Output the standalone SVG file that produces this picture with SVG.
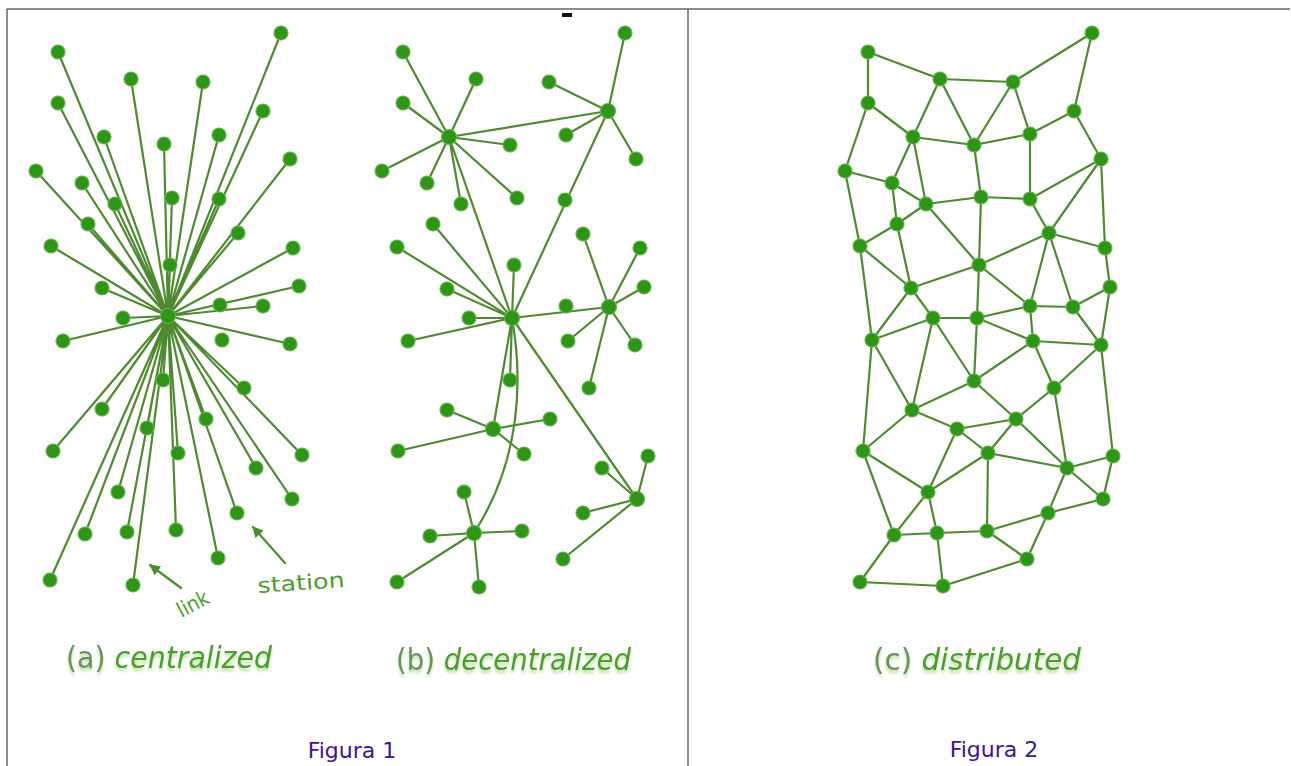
<svg xmlns="http://www.w3.org/2000/svg" width="1291" height="766" viewBox="0 0 1291 766">
<defs>
<style>
.frame{stroke:#666;stroke-width:1.5;fill:none}
.ln{stroke:#4f8a33;stroke-width:2.2;fill:none;stroke-linecap:round}
.dot{fill:#2f9418;stroke:#5fb548;stroke-width:1.2}
.lbl{font-family:"DejaVu Sans Condensed","DejaVu Sans",sans-serif;font-size:30px;fill:#4f9a30}
.par{fill:#708e63;font-style:normal}
.it{font-style:italic}
.ann{font-family:"DejaVu Sans Condensed","DejaVu Sans",sans-serif;font-size:21px;fill:#4f9a30}
.fig{font-family:"DejaVu Sans",Verdana,sans-serif;font-size:22px;fill:#3a13a0}
</style>
<filter id="sh" x="-10%" y="-30%" width="120%" height="170%">
<feGaussianBlur in="SourceAlpha" stdDeviation="1.6" result="b"/>
<feOffset in="b" dy="2.5" result="o"/>
<feFlood flood-color="#8fd46a" flood-opacity="0.7"/>
<feComposite in2="o" operator="in" result="s"/>
<feMerge><feMergeNode in="s"/><feMergeNode in="SourceGraphic"/></feMerge>
</filter>
<marker id="ah" viewBox="0 0 10 10" refX="9" refY="5" markerWidth="5" markerHeight="5" orient="auto">
<path d="M0,0 L10,5 L0,10 z" fill="#4f8a33"/>
</marker>
</defs>
<rect width="1291" height="766" fill="#ffffff"/>
<g id="frame" class="frame">
<line x1="7" y1="9" x2="1290" y2="9"/>
<line x1="7" y1="9" x2="7" y2="766"/>
<line x1="688" y1="9" x2="688" y2="766"/>
</g>
<rect x="562" y="13" width="10" height="4" fill="#111"/>

<g id="connectors" class="ln">
<path d="M168,316L281,33M168,316L58,52M168,316L131,79M168,316L203,82M168,316L58,103M168,316L263,111M168,316L104,137M168,316L164,144M168,316L219,135M168,316L290,159M168,316L36,171M168,316L82,183M168,316L115,204M168,316L172,198M168,316L219,199M168,316L88,224M168,316L238,233M168,316L51,246M168,316L293,248M168,316L170,265M168,316L102,288M168,316L299,286M168,316L263,306M168,316L123,318M168,316L63,341M168,316L290,344M168,316L163,380M168,316L244,388M168,316L102,409M168,316L147,428M168,316L206,419M168,316L53,451M168,316L178,453M168,316L302,455M168,316L256,468M168,316L118,492M168,316L292,499M168,316L85,534M168,316L127,532M168,316L176,530M168,316L237,513M168,316L218,558M168,316L50,580M168,316L133,585"/>
<path d="M449,137L403,52M449,137L476,79M449,137L403,103M449,137L510,145M449,137L382,171M449,137L427,183M449,137L461,204M449,137L517,198M449,137L608,111M449,137L512,318"/>
<path d="M608,111L625,33M608,111L549,82M608,111L566,135M608,111L636,159M608,111L512,318"/>
<path d="M512,318L433,224M512,318L397,247M512,318L514,265M512,318L447,289M512,318L469,318M512,318L408,341M512,318L510,380M512,318L493,429M512,318L609,307M512,318L637,499"/>
<path d="M512,318C523,380 521,460 474,533"/>
<path d="M609,307L583,234M609,307L640,248M609,307L644,287M609,307L568,341M609,307L635,345M609,307L589,388"/>
<path d="M493,429L447,410M493,429L550,419M493,429L398,451M493,429L524,454"/>
<path d="M474,533L464,492M474,533L430,536M474,533L522,531M474,533L397,582M474,533L479,587"/>
<path d="M637,499L602,468M637,499L648,456M637,499L583,513M637,499L563,559"/>
<path d="M868,52L940,79M940,79L1013,82M1013,82L1092,33M868,52L868,103M1092,33L1074,111M940,79L913,137M940,79L974,145M1013,82L974,145M1013,82L1030,134M868,103L913,137M868,103L845,171M913,137L974,145M974,145L1030,134M1030,134L1074,111M1074,111L1101,159M913,137L892,183M913,137L926,204M974,145L981,197M1030,134L1030,199M845,171L892,183M845,171L860,246M892,183L926,204M892,183L897,224M926,204L897,224M926,204L981,197M926,204L979,265M981,197L1030,199M981,197L979,265M1030,199L1101,159M1030,199L1049,233M1101,159L1049,233M1101,159L1105,248M897,224L860,246M897,224L911,288M1049,233L1105,248M1049,233L979,265M1049,233L1030,306M1049,233L1073,307M860,246L911,288M860,246L872,340M1105,248L1110,287M979,265L911,288M979,265L1030,306M979,265L977,318M911,288L933,318M911,288L872,340M1110,287L1073,307M1110,287L1101,345M1030,306L1073,307M1030,306L977,318M1030,306L1033,341M1073,307L1101,345M933,318L977,318M933,318L872,340M933,318L912,410M933,318L974,381M977,318L974,381M977,318L1033,341"/>
<path d="M872,340L912,410M872,340L863,451M1033,341L1101,345M1033,341L974,381M1033,341L1054,388M1101,345L1054,388M1101,345L1113,456M974,381L912,410M974,381L1016,419M1054,388L1016,419M1054,388L1067,468M912,410L957,429M912,410L863,451M1016,419L957,429M1016,419L988,453M1016,419L1067,468M957,429L988,453M957,429L928,492M863,451L928,492M863,451L894,535M988,453L1067,468M988,453L928,492M988,453L987,531M1113,456L1067,468M1113,456L1103,499M1067,468L1103,499M1067,468L1048,513M928,492L894,535M928,492L937,533M1103,499L1048,513M1048,513L987,531M1048,513L1027,559M894,535L937,533M894,535L860,582M937,533L987,531M937,533L943,586M987,531L1027,559M1027,559L943,586M860,582L943,586"/>
<path d="M181,588L150,565" marker-end="url(#ah)"/>
<path d="M285,563L253,527" marker-end="url(#ah)"/>
</g>

<g id="hub-a"><circle class="dot" cx="168" cy="316" r="7.5"/></g>
<g id="nodes-a">
<g id="a1"><circle class="dot" cx="281" cy="33" r="7"/></g>
<g id="a2"><circle class="dot" cx="58" cy="52" r="7"/></g>
<g id="a3"><circle class="dot" cx="131" cy="79" r="7"/></g>
<g id="a4"><circle class="dot" cx="203" cy="82" r="7"/></g>
<g id="a5"><circle class="dot" cx="58" cy="103" r="7"/></g>
<g id="a6"><circle class="dot" cx="263" cy="111" r="7"/></g>
<g id="a7"><circle class="dot" cx="104" cy="137" r="7"/></g>
<g id="a8"><circle class="dot" cx="164" cy="144" r="7"/></g>
<g id="a9"><circle class="dot" cx="219" cy="135" r="7"/></g>
<g id="a10"><circle class="dot" cx="290" cy="159" r="7"/></g>
<g id="a11"><circle class="dot" cx="36" cy="171" r="7"/></g>
<g id="a12"><circle class="dot" cx="82" cy="183" r="7"/></g>
<g id="a13"><circle class="dot" cx="115" cy="204" r="7"/></g>
<g id="a14"><circle class="dot" cx="172" cy="198" r="7"/></g>
<g id="a15"><circle class="dot" cx="219" cy="199" r="7"/></g>
<g id="a16"><circle class="dot" cx="88" cy="224" r="7"/></g>
<g id="a17"><circle class="dot" cx="238" cy="233" r="7"/></g>
<g id="a18"><circle class="dot" cx="51" cy="246" r="7"/></g>
<g id="a19"><circle class="dot" cx="293" cy="248" r="7"/></g>
<g id="a20"><circle class="dot" cx="170" cy="265" r="7"/></g>
<g id="a21"><circle class="dot" cx="102" cy="288" r="7"/></g>
<g id="a22"><circle class="dot" cx="299" cy="286" r="7"/></g>
<g id="a23"><circle class="dot" cx="220" cy="305" r="7"/></g>
<g id="a24"><circle class="dot" cx="263" cy="306" r="7"/></g>
<g id="a25"><circle class="dot" cx="123" cy="318" r="7"/></g>
<g id="a26"><circle class="dot" cx="63" cy="341" r="7"/></g>
<g id="a27"><circle class="dot" cx="222" cy="340" r="7"/></g>
<g id="a28"><circle class="dot" cx="290" cy="344" r="7"/></g>
<g id="a29"><circle class="dot" cx="163" cy="380" r="7"/></g>
<g id="a30"><circle class="dot" cx="244" cy="388" r="7"/></g>
<g id="a31"><circle class="dot" cx="102" cy="409" r="7"/></g>
<g id="a32"><circle class="dot" cx="147" cy="428" r="7"/></g>
<g id="a33"><circle class="dot" cx="206" cy="419" r="7"/></g>
<g id="a34"><circle class="dot" cx="53" cy="451" r="7"/></g>
<g id="a35"><circle class="dot" cx="178" cy="453" r="7"/></g>
<g id="a36"><circle class="dot" cx="302" cy="455" r="7"/></g>
<g id="a37"><circle class="dot" cx="256" cy="468" r="7"/></g>
<g id="a38"><circle class="dot" cx="118" cy="492" r="7"/></g>
<g id="a39"><circle class="dot" cx="292" cy="499" r="7"/></g>
<g id="a40"><circle class="dot" cx="85" cy="534" r="7"/></g>
<g id="a41"><circle class="dot" cx="127" cy="532" r="7"/></g>
<g id="a42"><circle class="dot" cx="176" cy="530" r="7"/></g>
<g id="a43"><circle class="dot" cx="237" cy="513" r="7"/></g>
<g id="a44"><circle class="dot" cx="218" cy="558" r="7"/></g>
<g id="a45"><circle class="dot" cx="50" cy="580" r="7"/></g>
<g id="a46"><circle class="dot" cx="133" cy="585" r="7"/></g>
</g>

<g id="nodes-b">
<g id="bA"><circle class="dot" cx="449" cy="137" r="7.5"/></g>
<g id="bB"><circle class="dot" cx="608" cy="111" r="7.5"/></g>
<g id="bC"><circle class="dot" cx="512" cy="318" r="7.5"/></g>
<g id="bD"><circle class="dot" cx="609" cy="307" r="7.5"/></g>
<g id="bE"><circle class="dot" cx="493" cy="429" r="7.5"/></g>
<g id="bF"><circle class="dot" cx="474" cy="533" r="7.5"/></g>
<g id="bG"><circle class="dot" cx="637" cy="499" r="7.5"/></g>
<g id="b1"><circle class="dot" cx="403" cy="52" r="7"/></g>
<g id="b2"><circle class="dot" cx="476" cy="79" r="7"/></g>
<g id="b3"><circle class="dot" cx="403" cy="103" r="7"/></g>
<g id="b4"><circle class="dot" cx="510" cy="145" r="7"/></g>
<g id="b5"><circle class="dot" cx="382" cy="171" r="7"/></g>
<g id="b6"><circle class="dot" cx="427" cy="183" r="7"/></g>
<g id="b7"><circle class="dot" cx="461" cy="204" r="7"/></g>
<g id="b8"><circle class="dot" cx="517" cy="198" r="7"/></g>
<g id="b9"><circle class="dot" cx="625" cy="33" r="7"/></g>
<g id="b10"><circle class="dot" cx="549" cy="82" r="7"/></g>
<g id="b11"><circle class="dot" cx="566" cy="135" r="7"/></g>
<g id="b12"><circle class="dot" cx="636" cy="159" r="7"/></g>
<g id="b13"><circle class="dot" cx="565" cy="200" r="7"/></g>
<g id="b14"><circle class="dot" cx="433" cy="224" r="7"/></g>
<g id="b15"><circle class="dot" cx="397" cy="247" r="7"/></g>
<g id="b16"><circle class="dot" cx="514" cy="265" r="7"/></g>
<g id="b17"><circle class="dot" cx="447" cy="289" r="7"/></g>
<g id="b18"><circle class="dot" cx="469" cy="318" r="7"/></g>
<g id="b19"><circle class="dot" cx="408" cy="341" r="7"/></g>
<g id="b20"><circle class="dot" cx="510" cy="380" r="7"/></g>
<g id="b21"><circle class="dot" cx="566" cy="306" r="7"/></g>
<g id="b22"><circle class="dot" cx="583" cy="234" r="7"/></g>
<g id="b23"><circle class="dot" cx="640" cy="248" r="7"/></g>
<g id="b24"><circle class="dot" cx="644" cy="287" r="7"/></g>
<g id="b25"><circle class="dot" cx="568" cy="341" r="7"/></g>
<g id="b26"><circle class="dot" cx="635" cy="345" r="7"/></g>
<g id="b27"><circle class="dot" cx="589" cy="388" r="7"/></g>
<g id="b28"><circle class="dot" cx="447" cy="410" r="7"/></g>
<g id="b29"><circle class="dot" cx="550" cy="419" r="7"/></g>
<g id="b30"><circle class="dot" cx="398" cy="451" r="7"/></g>
<g id="b31"><circle class="dot" cx="524" cy="454" r="7"/></g>
<g id="b32"><circle class="dot" cx="464" cy="492" r="7"/></g>
<g id="b33"><circle class="dot" cx="430" cy="536" r="7"/></g>
<g id="b34"><circle class="dot" cx="522" cy="531" r="7"/></g>
<g id="b35"><circle class="dot" cx="397" cy="582" r="7"/></g>
<g id="b36"><circle class="dot" cx="479" cy="587" r="7"/></g>
<g id="b37"><circle class="dot" cx="602" cy="468" r="7"/></g>
<g id="b38"><circle class="dot" cx="648" cy="456" r="7"/></g>
<g id="b39"><circle class="dot" cx="583" cy="513" r="7"/></g>
<g id="b40"><circle class="dot" cx="563" cy="559" r="7"/></g>
</g>

<g id="nodes-c">
<g id="n1"><circle class="dot" cx="868" cy="52" r="7"/></g>
<g id="n2"><circle class="dot" cx="940" cy="79" r="7"/></g>
<g id="n3"><circle class="dot" cx="1013" cy="82" r="7"/></g>
<g id="n4"><circle class="dot" cx="1092" cy="33" r="7"/></g>
<g id="n5"><circle class="dot" cx="868" cy="103" r="7"/></g>
<g id="n6"><circle class="dot" cx="1074" cy="111" r="7"/></g>
<g id="n7"><circle class="dot" cx="913" cy="137" r="7"/></g>
<g id="n8"><circle class="dot" cx="974" cy="145" r="7"/></g>
<g id="n9"><circle class="dot" cx="1030" cy="134" r="7"/></g>
<g id="n10"><circle class="dot" cx="1101" cy="159" r="7"/></g>
<g id="n11"><circle class="dot" cx="845" cy="171" r="7"/></g>
<g id="n12"><circle class="dot" cx="892" cy="183" r="7"/></g>
<g id="n13"><circle class="dot" cx="926" cy="204" r="7"/></g>
<g id="n14"><circle class="dot" cx="981" cy="197" r="7"/></g>
<g id="n15"><circle class="dot" cx="1030" cy="199" r="7"/></g>
<g id="n16"><circle class="dot" cx="897" cy="224" r="7"/></g>
<g id="n17"><circle class="dot" cx="1049" cy="233" r="7"/></g>
<g id="n18"><circle class="dot" cx="860" cy="246" r="7"/></g>
<g id="n19"><circle class="dot" cx="1105" cy="248" r="7"/></g>
<g id="n20"><circle class="dot" cx="979" cy="265" r="7"/></g>
<g id="n21"><circle class="dot" cx="911" cy="288" r="7"/></g>
<g id="n22"><circle class="dot" cx="1110" cy="287" r="7"/></g>
<g id="n23"><circle class="dot" cx="1030" cy="306" r="7"/></g>
<g id="n24"><circle class="dot" cx="1073" cy="307" r="7"/></g>
<g id="n25"><circle class="dot" cx="933" cy="318" r="7"/></g>
<g id="n26"><circle class="dot" cx="977" cy="318" r="7"/></g>
<g id="m1"><circle class="dot" cx="872" cy="340" r="7"/></g>
<g id="m2"><circle class="dot" cx="1033" cy="341" r="7"/></g>
<g id="m3"><circle class="dot" cx="1101" cy="345" r="7"/></g>
<g id="m4"><circle class="dot" cx="974" cy="381" r="7"/></g>
<g id="m5"><circle class="dot" cx="1054" cy="388" r="7"/></g>
<g id="m6"><circle class="dot" cx="912" cy="410" r="7"/></g>
<g id="m7"><circle class="dot" cx="1016" cy="419" r="7"/></g>
<g id="m8"><circle class="dot" cx="957" cy="429" r="7"/></g>
<g id="m9"><circle class="dot" cx="863" cy="451" r="7"/></g>
<g id="m10"><circle class="dot" cx="988" cy="453" r="7"/></g>
<g id="m11"><circle class="dot" cx="1113" cy="456" r="7"/></g>
<g id="m12"><circle class="dot" cx="1067" cy="468" r="7"/></g>
<g id="m13"><circle class="dot" cx="928" cy="492" r="7"/></g>
<g id="m14"><circle class="dot" cx="1103" cy="499" r="7"/></g>
<g id="m15"><circle class="dot" cx="1048" cy="513" r="7"/></g>
<g id="m16"><circle class="dot" cx="894" cy="535" r="7"/></g>
<g id="m17"><circle class="dot" cx="937" cy="533" r="7"/></g>
<g id="m18"><circle class="dot" cx="987" cy="531" r="7"/></g>
<g id="m19"><circle class="dot" cx="1027" cy="559" r="7"/></g>
<g id="m20"><circle class="dot" cx="860" cy="582" r="7"/></g>
<g id="m21"><circle class="dot" cx="943" cy="586" r="7"/></g>
</g>

<g id="annotations">
<text class="ann" x="193" y="611" text-anchor="middle" font-size="19" transform="rotate(-28 193 604)">link</text>
<text class="ann" x="301" y="590" text-anchor="middle" textLength="87" lengthAdjust="spacingAndGlyphs" transform="rotate(-4 301 583)">station</text>
</g>
<g id="labels" filter="url(#sh)">
<text class="lbl" x="66" y="668" textLength="206" lengthAdjust="spacingAndGlyphs"><tspan class="par">(a)</tspan> <tspan class="it">centralized</tspan></text>
<text class="lbl" x="396" y="670" textLength="235" lengthAdjust="spacingAndGlyphs"><tspan class="par">(b)</tspan> <tspan class="it">decentralized</tspan></text>
<text class="lbl" x="873" y="670" textLength="208" lengthAdjust="spacingAndGlyphs"><tspan class="par">(c)</tspan> <tspan class="it">distributed</tspan></text>
</g>
<g id="captions">
<text class="fig" x="352" y="758" text-anchor="middle">Figura 1</text>
<text class="fig" x="994" y="757" text-anchor="middle">Figura 2</text>
</g>
</svg>
